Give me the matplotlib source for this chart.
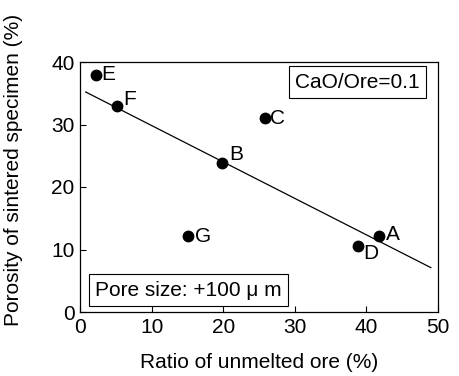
import matplotlib
matplotlib.use("Agg")
import matplotlib.pyplot as plt

# Measured points (ratio of unmelted ore %, porosity %)
labels = ["A", "B", "C", "D", "E", "F", "G"]
ratio = [41.8, 19.9, 25.8, 38.8, 2.2, 5.1, 15.1]
porosity = [12.2, 23.9, 31.0, 10.6, 38.0, 33.0, 12.1]

# Regression line end points
fit_x = [0.8, 49.0]
fit_y = [35.2, 7.1]

# label offsets in points (dx, dy, ha, va)
label_offsets = {
    "A": (5, 1, "left", "center"),
    "B": (5, -1, "left", "bottom"),
    "C": (4, 0, "left", "center"),
    "D": (4, 1, "left", "top"),
    "E": (4, 0, "left", "center"),
    "F": (5, -2, "left", "bottom"),
    "G": (5, 0, "left", "center"),
}

plt.rcParams["font.family"] = ["Liberation Sans", "DejaVu Sans"]
fs = 15

fig = plt.figure(figsize=(4.6, 3.76), dpi=100)
ax = fig.add_axes([80 / 460, 1 - 312 / 376, 358 / 460, 250 / 376])

ax.plot(fit_x, fit_y, color="black", linewidth=0.9, zorder=2)
ax.plot(ratio, porosity, "o", color="black", markersize=7.5, zorder=3)

for lab, x, y in zip(labels, ratio, porosity):
    dx, dy, ha, va = label_offsets[lab]
    ax.annotate(lab, (x, y), xytext=(dx, dy), textcoords="offset points",
                ha=ha, va=va, fontsize=fs)

box = dict(boxstyle="square,pad=0.3", facecolor="white",
           edgecolor="black", linewidth=0.8)
ax.text(0.948, 0.958, "CaO/Ore=0.1", transform=ax.transAxes,
        ha="right", va="top", fontsize=fs, bbox=box)
ax.text(0.042, 0.05, "Pore size: +100 μ m", transform=ax.transAxes,
        ha="left", va="bottom", fontsize=fs, bbox=box)

ax.set_xlim(0, 50)
ax.set_ylim(0, 40)
ax.set_xticks([0, 10, 20, 30, 40, 50])
ax.set_yticks([0, 10, 20, 30, 40])
ax.tick_params(direction="in", length=4, width=0.8, labelsize=fs,
               top=False, right=False, pad=4)
for s in ax.spines.values():
    s.set_linewidth(0.9)

ax.set_xlabel("Ratio of unmelted ore (%)", fontsize=fs, labelpad=12)
ax.set_ylabel("Porosity of sintered specimen (%)", fontsize=fs)
ax.yaxis.set_label_coords(-0.16, 0.57)

fig.savefig("out.png", dpi=100)
